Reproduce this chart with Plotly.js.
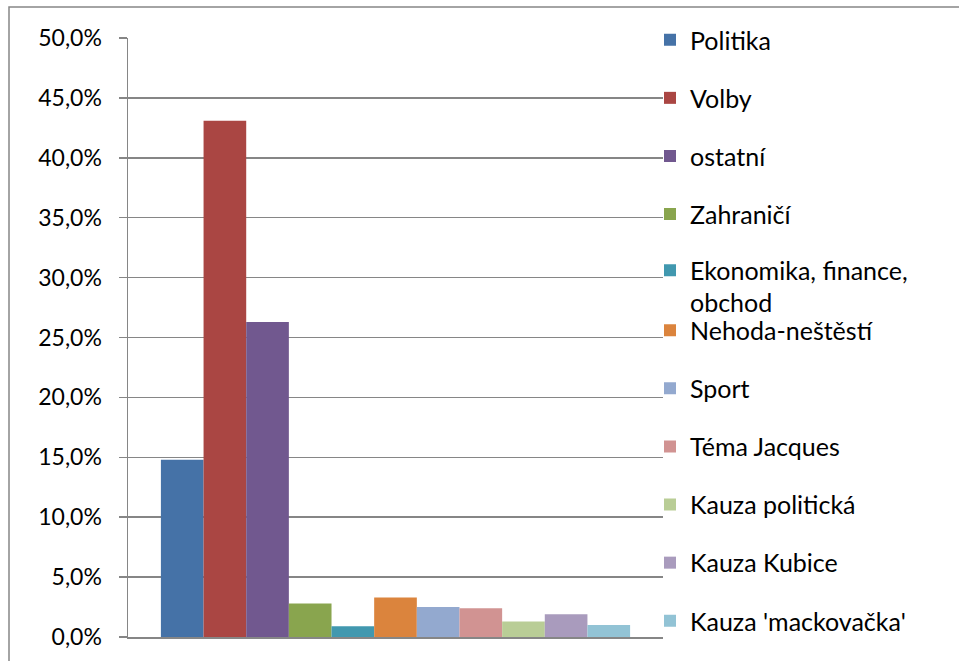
<!DOCTYPE html>
<html>
<head>
<meta charset="utf-8">
<script src="https://cdn.plot.ly/plotly-3.0.1.min.js"></script>
<style>html,body{margin:0;padding:0;background:#fff;}#chart{width:959px;height:661px;}</style>
</head>
<body>
<div id="chart"></div>
<script>
const categories = ['Politika', 'Volby', 'ostatní', 'Zahraničí', 'Ekonomika, finance,<br>obchod', 'Nehoda-neštěstí', 'Sport', 'Téma Jacques', 'Kauza politická', 'Kauza Kubice', "Kauza 'mackovačka'"];
const values = [14.8, 43.1, 26.3, 2.8, 0.9, 3.3, 2.5, 2.4, 1.3, 1.9, 1.0];
const colors = ['#4572A7', '#AA4643', '#71588F', '#89A54E', '#4198AF', '#DB843D', '#93A9CF', '#D19392', '#B9CD96', '#A99BBD', '#92C3D5'];
const tickVals = [0, 5, 10, 15, 20, 25, 30, 35, 40, 45, 50];
const tickLabels = ['0,0%', '5,0%', '10,0%', '15,0%', '20,0%', '25,0%', '30,0%', '35,0%', '40,0%', '45,0%', '50,0%'];

const W = 959, H = 661;
const plotL = 128, plotR = 663, plotT = 38, plotB = 637;
const pw = plotR - plotL, ph = plotB - plotT;
const FONT = 'Lato, "Liberation Sans", sans-serif';
const FS = 25;
const TFS = 23;

const traces = categories.map((name, i) => ({
  type: 'bar',
  name: name,
  x: ['A'],
  y: [values[i]],
  marker: {color: colors[i], line: {width: 0}},
  legend: i === 0 ? 'legend' : 'legend' + (i + 1),
  hoverinfo: 'name+y'
}));

const layout = {
  width: W, height: H,
  margin: {l: plotL, r: W - plotR, t: plotT, b: H - plotB, pad: 0},
  paper_bgcolor: '#ffffff',
  plot_bgcolor: '#ffffff',
  separators: ', ',
  font: {family: FONT, size: FS, color: '#000000'},
  barmode: 'group',
  bargap: 0.123,
  bargroupgap: 0,
  showlegend: true,
  xaxis: {
    showticklabels: false, ticks: '', showgrid: false, zeroline: false,
    showline: true, linecolor: '#868686', linewidth: 1.5, fixedrange: true
  },
  yaxis: {
    range: [0, 50], tickmode: 'array', tickvals: tickVals, ticktext: tickLabels,
    ticks: 'outside', ticklen: 8, tickcolor: '#868686', tickwidth: 1.5,
    showgrid: true, gridcolor: '#868686', gridwidth: 1.5, zeroline: false,
    showline: true, linecolor: '#868686', linewidth: 1.5,
    ticklabelstandoff: 12,
    tickfont: {family: FONT, size: TFS, color: '#000000'}, fixedrange: true
  },
  shapes: [{
    type: 'rect', xref: 'paper', yref: 'paper',
    x0: (9 - plotL) / pw, x1: (W + 5 - plotL) / pw,
    y0: (plotB - (H + 5)) / ph, y1: (plotB - 7) / ph,
    line: {color: '#868686', width: 1.5}, fillcolor: 'rgba(0,0,0,0)', layer: 'below'
  }]
};

const legendLeft = 650;
categories.forEach((name, i) => {
  let cy = 40 + i * 58.1;
  if (name.indexOf('<br>') >= 0) cy += 14;
  const key = i === 0 ? 'legend' : 'legend' + (i + 1);
  layout[key] = {
    x: (legendLeft - plotL) / pw, xanchor: 'left',
    y: (plotB - cy) / ph, yanchor: 'middle',
    bgcolor: 'rgba(0,0,0,0)', borderwidth: 0,
    font: {family: FONT, size: FS, color: '#000000'},
    valign: 'top', itemclick: false, itemdoubleclick: false
  };
});

Plotly.newPlot('chart', traces, layout, {displayModeBar: false, staticPlot: true});
</script>
</body>
</html>
